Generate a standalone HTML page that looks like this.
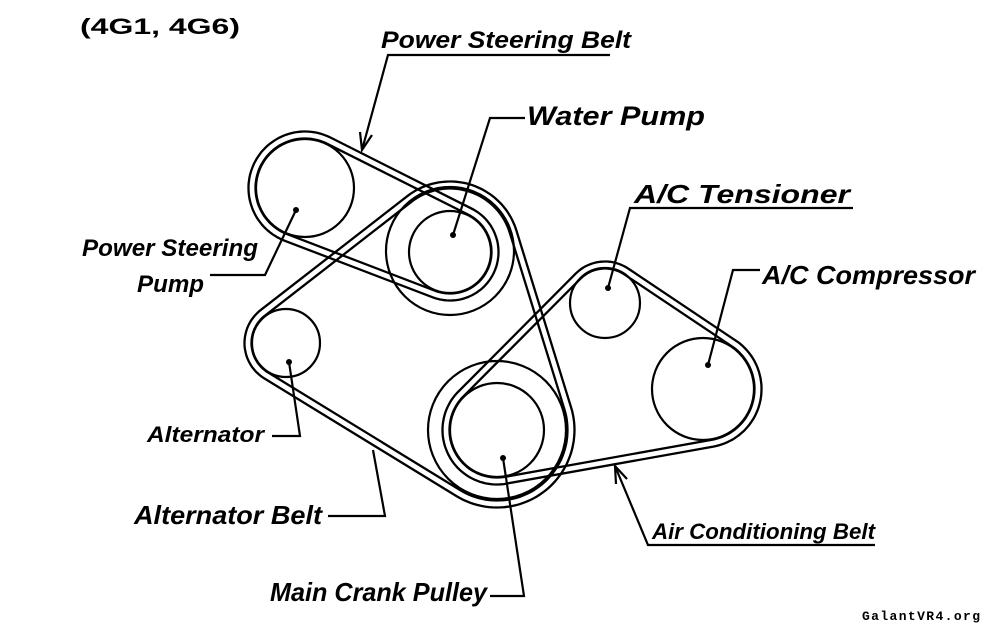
<!DOCTYPE html>
<html><head><meta charset="utf-8"><style>
html,body{margin:0;padding:0;background:#fff}
svg{display:block}
text{font-family:"Liberation Sans",Arial,sans-serif;font-weight:bold;font-style:italic;fill:#000}
</style></head><body>
<svg id="s" width="982" height="627" viewBox="0 0 982 627" xmlns="http://www.w3.org/2000/svg">
<g fill="none" stroke="#000" stroke-width="2.2">
<circle cx="305" cy="188" r="49"/>
<circle cx="450" cy="252" r="41"/>
<circle cx="450" cy="251" r="64"/>
<circle cx="286" cy="343" r="34"/>
<circle cx="497" cy="430" r="47"/>
<circle cx="497" cy="430" r="69"/>
<circle cx="605" cy="303" r="35"/>
<circle cx="703" cy="389" r="51"/>
</g>
<g id="belts"></g>
<g fill="none" stroke="#000" stroke-width="2.2">
<polyline points="610,55 388,55 362,150"/>
<polyline points="360,132 362,150 372,135"/>
<polyline points="525,118 490,118 453,235"/>
<polyline points="853,208 630,208 608,288"/>
<polyline points="760,270 733,270 708,365"/>
<polyline points="210,275 265,275 296,210"/>
<polyline points="272,436 300,436 289,362"/>
<polyline points="328,516 385,516 373,450"/>
<polyline points="490,596 524,596 503,458"/>
<polyline points="875,545 648,545 615,466"/>
<polyline points="616,484 615,466 627,479"/>
</g>
<g fill="#000">
<circle cx="296" cy="210" r="3"/><circle cx="453" cy="235" r="3"/>
<circle cx="608" cy="288" r="3"/><circle cx="708" cy="365" r="3"/>
<circle cx="289" cy="362" r="3"/><circle cx="503" cy="458" r="3"/>
</g>
<text x="80" y="34" style="font-style:normal;font-size:22px" textLength="160" lengthAdjust="spacingAndGlyphs">(4G1, 4G6)</text>
<text x="381" y="48" style="font-size:24px" textLength="250" lengthAdjust="spacingAndGlyphs">Power Steering Belt</text>
<text x="527" y="125" style="font-size:27px" textLength="178" lengthAdjust="spacingAndGlyphs">Water Pump</text>
<text x="634" y="203" style="font-size:26px" textLength="216" lengthAdjust="spacingAndGlyphs">A/C Tensioner</text>
<text x="762" y="284" style="font-size:26px" textLength="213" lengthAdjust="spacingAndGlyphs">A/C Compressor</text>
<text x="82" y="256" style="font-size:24px" textLength="176" lengthAdjust="spacingAndGlyphs">Power Steering</text>
<text x="137" y="292" style="font-size:24px" textLength="67" lengthAdjust="spacingAndGlyphs">Pump</text>
<text x="147" y="442" style="font-size:22px" textLength="117" lengthAdjust="spacingAndGlyphs">Alternator</text>
<text x="134" y="524" style="font-size:26px" textLength="188" lengthAdjust="spacingAndGlyphs">Alternator Belt</text>
<text x="270" y="601" style="font-size:26px" textLength="217" lengthAdjust="spacingAndGlyphs">Main Crank Pulley</text>
<text x="652" y="539" style="font-size:22px" textLength="223" lengthAdjust="spacingAndGlyphs">Air Conditioning Belt</text>
<text x="862" y="620" style="font-style:normal;font-family:'Liberation Mono',monospace;font-size:13px" textLength="118">GalantVR4.org</text>
</svg>
<script>
function hull(circs){
  var n=circs.length,cx=0,cy=0;circs.forEach(function(c){cx+=c[0];cy+=c[1];});cx/=n;cy/=n;
  var area=0;for(var i=0;i<n;i++){var a=circs[i],b=circs[(i+1)%n];area+=a[0]*b[1]-b[0]*a[1];}
  var dir=area>0?1:-1;
  var segs=[];
  for(var i=0;i<n;i++){
    var A=circs[i],B=circs[(i+1)%n];
    var dx=B[0]-A[0],dy=B[1]-A[1],L=Math.hypot(dx,dy);
    var phi=Math.acos((A[2]-B[2])/L),th=Math.atan2(dy,dx);
    var best=null,bd=-1e9;
    [th+phi,th-phi].forEach(function(t){
      var nx=Math.cos(t),ny=Math.sin(t);
      var d=nx*((A[0]+B[0])/2-cx)+ny*((A[1]+B[1])/2-cy);
      if(d>bd){bd=d;best=t;}
    });
    segs.push(best);
  }
  var pts=[];
  for(var i=0;i<n;i++){
    var C=circs[i],tin=segs[(i-1+n)%n],tout=segs[i];
    var d=tout-tin;
    if(dir>0){while(d<0)d+=2*Math.PI;while(d>2*Math.PI)d-=2*Math.PI;}
    else{while(d>0)d-=2*Math.PI;while(d<-2*Math.PI)d+=2*Math.PI;}
    var steps=Math.max(2,Math.ceil(Math.abs(d)/0.05));
    for(var k=0;k<=steps;k++){var t=tin+d*k/steps;pts.push((C[0]+C[2]*Math.cos(t)).toFixed(1)+","+(C[1]+C[2]*Math.sin(t)).toFixed(1));}
  }
  return "M"+pts.join("L")+"Z";
}
var belts=[
  [[305,188,53],[450,252,45]],
  [[286,343,38],[450,251,66],[497,430,74]],
  [[497,430,51],[605,303,38],[703,389,55]]
];
var g=document.getElementById("belts"),h="";
belts.forEach(function(b){
  var r1=b.map(function(c){return [c[0],c[1],c[2]-3.5];}),r2=b.map(function(c){return [c[0],c[1],c[2]+3.5];});
  h+='<path d="'+hull(r1)+'" fill="none" stroke="#000" stroke-width="2.3"/>';
  h+='<path d="'+hull(r2)+'" fill="none" stroke="#000" stroke-width="2.3"/>';
});
g.innerHTML=h;
</script>
</body></html>
